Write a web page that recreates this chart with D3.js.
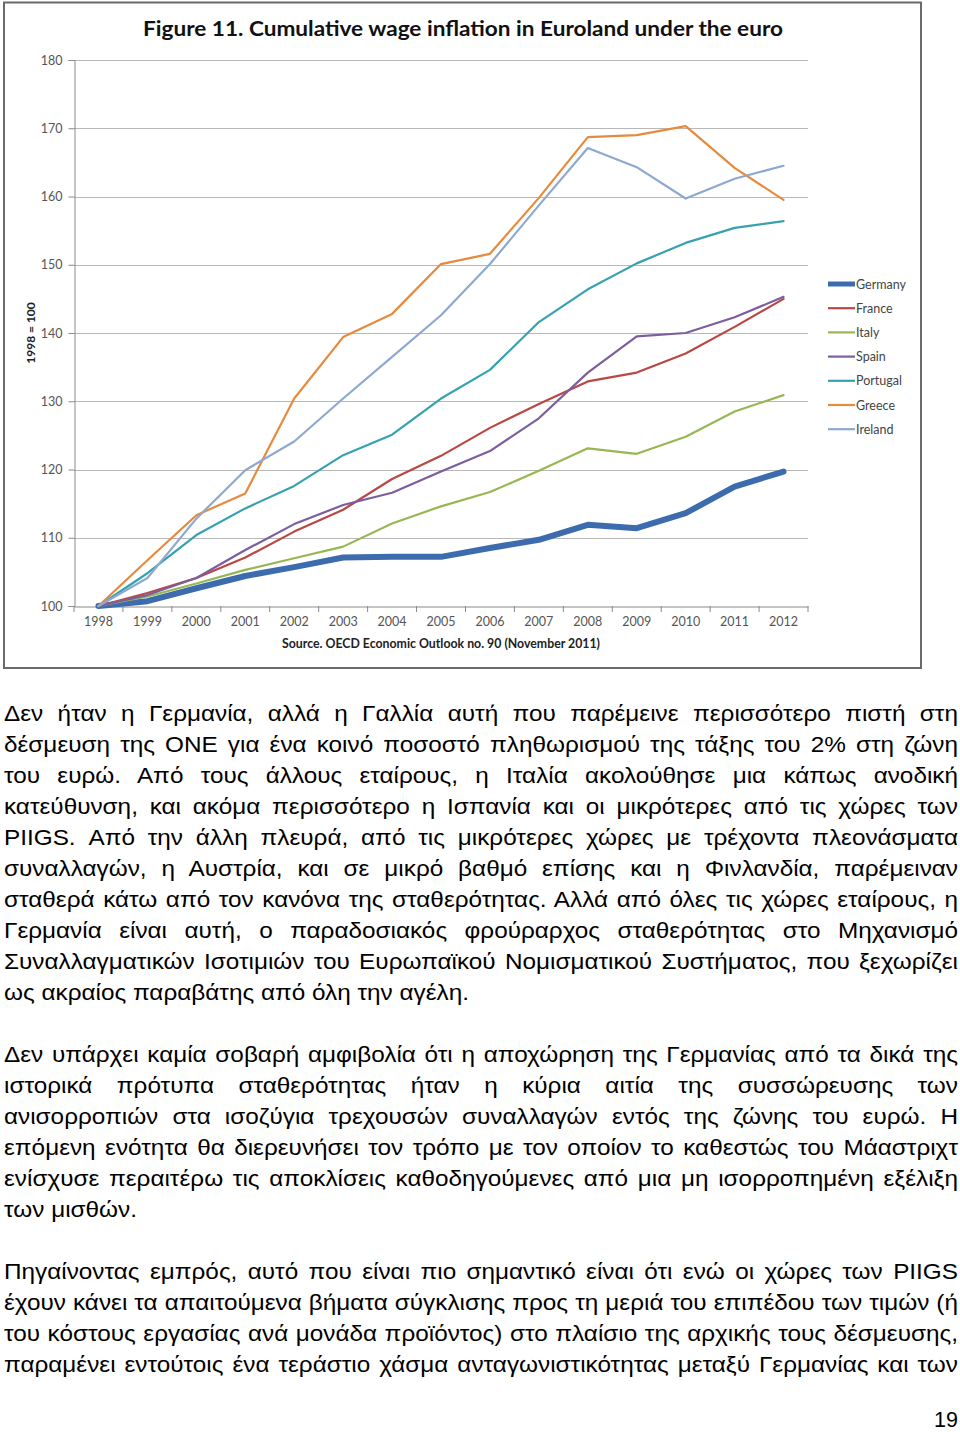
<!DOCTYPE html>
<html><head><meta charset="utf-8">
<script src="https://cdn.jsdelivr.net/npm/d3@7/dist/d3.min.js"></script>
<style>
html,body{margin:0;padding:0;background:#fff;width:960px;height:1432px;overflow:hidden;}
#chart{position:absolute;left:0;top:0;}
.ln{position:absolute;left:4px;font-family:"Liberation Sans",Arial,sans-serif;color:#000;line-height:31px;height:31px;white-space:nowrap;transform-origin:0 50%;}
.just{text-align:justify;text-align-last:justify;white-space:normal;}
</style></head><body>
<svg id="chart" width="960" height="672"></svg>
<div id="text"></div>
<script>
const years = ["1998","1999","2000","2001","2002","2003","2004","2005","2006","2007","2008","2009","2010","2011","2012"];
const yTicks = [100,110,120,130,140,150,160,170,180];
const seriesNames = ["Germany","France","Italy","Spain","Portugal","Greece","Ireland"];
const germany  = [100,100.7,102.6,104.4,105.7,107.1,107.2,107.2,108.5,109.7,111.9,111.4,113.6,117.5,119.7];
const france   = [100,101.9,104.1,107.1,110.9,114.1,118.6,122.0,126.1,129.6,132.9,134.2,137.0,140.9,145.0];
const italy    = [100,101.4,103.3,105.3,107.0,108.7,112.1,114.6,116.7,119.8,123.1,122.3,124.8,128.5,130.9];
const spain    = [100,101.6,104.1,108.2,112.0,114.8,116.6,119.7,122.7,127.5,134.2,139.5,140.0,142.3,145.3];
const portugal = [100,104.8,110.4,114.3,117.6,122.1,125.1,130.4,134.6,141.6,146.4,150.2,153.2,155.4,156.4];
const greece   = [100,106.7,113.3,116.5,130.4,139.4,142.8,150.1,151.6,159.8,168.7,169.0,170.3,164.2,159.5];
const ireland  = [100,104.1,112.8,119.9,124.1,130.4,136.5,142.6,150.1,158.7,167.1,164.3,159.7,162.6,164.5];
const seriesValues = [germany,france,italy,spain,portugal,greece,ireland];
const seriesColors = ["#3c6cae","#bb4744","#97b752","#7a5e9d","#36a2b0","#e68a3e","#8ea9cf"];
const seriesWidths = [6,2.2,2.2,2.2,2.2,2.2,2.2];

const svg = d3.select("#chart");
const L=74, R=808, T=60, B=606;
const x = d3.scaleBand().domain(years).range([L,R]);
const y = d3.scaleLinear().domain([100,180]).range([B,T]);

svg.append("rect").attr("x",4).attr("y",2.5).attr("width",917).attr("height",665.5)
  .attr("fill","#fff").attr("stroke","#6a6a6a").attr("stroke-width",2);

svg.append("text").attr("x",463).attr("y",36).attr("text-anchor","middle")
  .attr("font-family","Lato, 'Open Sans', sans-serif").attr("font-weight","bold").attr("font-size",21)
  .attr("textLength",640).attr("lengthAdjust","spacingAndGlyphs").attr("fill","#111")
  .text("Figure 11. Cumulative wage inflation in Euroland under the euro");

svg.append("g").selectAll("line").data(yTicks.filter(d=>d>100)).join("line")
  .attr("x1",L).attr("x2",R).attr("y1",d=>Math.round(y(d))+0.5).attr("y2",d=>Math.round(y(d))+0.5)
  .attr("stroke","#b8b8b8").attr("stroke-width",1.2);

const yAxis = d3.axisLeft(y).tickValues(yTicks).tickSize(6).tickPadding(6);
const gy = svg.append("g").attr("transform",`translate(${L+0.5},0)`).call(yAxis);
gy.select(".domain").attr("stroke","#8a8a8a");
gy.selectAll(".tick line").attr("stroke","#8a8a8a");
gy.selectAll(".tick text").attr("font-family","Lato, sans-serif").attr("font-size",12.5).attr("fill","#555");

const xAxis = d3.axisBottom(x).tickSize(0).tickPadding(11);
const gx = svg.append("g").attr("transform",`translate(0,${B+0.5})`).call(xAxis);
gx.select(".domain").attr("stroke","#8a8a8a");
gx.selectAll(".tick text").attr("font-family","Lato, sans-serif").attr("font-size",12.5).attr("fill","#555");
svg.append("g").selectAll("line").data(years.concat(["end"])).join("line")
  .attr("x1",(d,i)=>i<years.length?x(d):R).attr("x2",(d,i)=>i<years.length?x(d):R)
  .attr("y1",B).attr("y2",B+6).attr("stroke","#8a8a8a");

svg.append("text").attr("transform","translate(35,333) rotate(-90)").attr("text-anchor","middle")
  .attr("font-family","Lato, sans-serif").attr("font-weight","bold").attr("font-size",12).attr("fill","#222")
  .text("1998 = 100");

svg.append("text").attr("x",441).attr("y",648).attr("text-anchor","middle")
  .attr("font-family","Lato, sans-serif").attr("font-weight","bold").attr("font-size",12.5).attr("fill","#222")
  .attr("textLength",318).attr("lengthAdjust","spacingAndGlyphs")
  .text("Source. OECD Economic Outlook no. 90 (November 2011)");

const line = d3.line().x((d,i)=>x(years[i])+x.bandwidth()/2).y(d=>y(d));
svg.append("g").selectAll("path").data(seriesValues).join("path")
  .attr("d",d=>line(d)).attr("fill","none")
  .attr("stroke",(d,i)=>seriesColors[i]).attr("stroke-width",(d,i)=>seriesWidths[i])
  .attr("stroke-linejoin","round").attr("stroke-linecap","round");

const lg = svg.append("g").selectAll("g").data(seriesNames).join("g")
  .attr("transform",(d,i)=>`translate(828,${284+i*24.2})`);
lg.append("line").attr("x1",0).attr("x2",27).attr("y1",0).attr("y2",0)
  .attr("stroke",(d,i)=>seriesColors[i]).attr("stroke-width",(d,i)=>i===0?5:2.2);
lg.append("text").attr("x",28).attr("y",4.5).attr("font-family","Lato, sans-serif").attr("font-size",12.5)
  .attr("fill","#444").text(d=>d);

const paragraphs = [
 {top:714, lines:[
  "Δεν ήταν η Γερμανία, αλλά η Γαλλία αυτή που παρέμεινε περισσότερο πιστή στη",
  "δέσμευση της ΟΝΕ για ένα κοινό ποσοστό πληθωρισμού της τάξης του 2% στη ζώνη",
  "του ευρώ. Από τους άλλους εταίρους, η Ιταλία ακολούθησε μια κάπως ανοδική",
  "κατεύθυνση, και ακόμα περισσότερο η Ισπανία και οι μικρότερες από τις χώρες των",
  "PIIGS. Από την άλλη πλευρά, από τις μικρότερες χώρες με τρέχοντα πλεονάσματα",
  "συναλλαγών, η Αυστρία, και σε μικρό βαθμό επίσης και η Φινλανδία, παρέμειναν",
  "σταθερά κάτω από τον κανόνα της σταθερότητας. Αλλά από όλες τις χώρες εταίρους, η",
  "Γερμανία είναι αυτή, ο παραδοσιακός φρούραρχος σταθερότητας στο Μηχανισμό",
  "Συναλλαγματικών Ισοτιμιών του Ευρωπαϊκού Νομισματικού Συστήματος, που ξεχωρίζει",
  "ως ακραίος παραβάτης από όλη την αγέλη."], lastJust:false},
 {top:1055, lines:[
  "Δεν υπάρχει καμία σοβαρή αμφιβολία ότι η αποχώρηση της Γερμανίας από τα δικά της",
  "ιστορικά πρότυπα σταθερότητας ήταν η κύρια αιτία της συσσώρευσης των",
  "ανισορροπιών στα ισοζύγια τρεχουσών συναλλαγών εντός της ζώνης του ευρώ. Η",
  "επόμενη ενότητα θα διερευνήσει τον τρόπο με τον οποίον το καθεστώς του Μάαστριχτ",
  "ενίσχυσε περαιτέρω τις αποκλίσεις καθοδηγούμενες από μια μη ισορροπημένη εξέλιξη",
  "των μισθών."], lastJust:false},
 {top:1272, lines:[
  "Πηγαίνοντας εμπρός, αυτό που είναι πιο σημαντικό είναι ότι ενώ οι χώρες των PIIGS",
  "έχουν κάνει τα απαιτούμενα βήματα σύγκλισης προς τη μεριά του επιπέδου των τιμών (ή",
  "του κόστους εργασίας ανά μονάδα προϊόντος) στο πλαίσιο της αρχικής τους δέσμευσης,",
  "παραμένει εντούτοις ένα τεράστιο χάσμα ανταγωνιστικότητας μεταξύ Γερμανίας και των"], lastJust:true}
];
const tdiv = d3.select("#text");
const fs = 21.5;
function measure(t){
  const m = tdiv.append("span").style("font-family","'Liberation Sans',Arial,sans-serif")
    .style("font-size",fs+"px").style("white-space","nowrap").style("position","absolute")
    .style("visibility","hidden").text(t);
  const w = m.node().getBoundingClientRect().width; m.remove(); return w;
}
const sx = Math.max(1, 465 / measure("ως ακραίος παραβάτης από όλη την αγέλη."));
const innerW = 954 / sx;
paragraphs.forEach(p=>{
  p.lines.forEach((t,i)=>{
    const isLast = i===p.lines.length-1;
    const just = !isLast || p.lastJust;
    const d = tdiv.append("div").attr("class","ln"+(just?" just":""))
      .style("top",(p.top+31*i-15.5)+"px").style("font-size",fs+"px")
      .style("width",innerW+"px").style("transform",`scaleX(${sx})`);
    const w = measure(t);
    if (w > innerW - 2) d.style("letter-spacing",((innerW-2-w)/t.length)+"px");
    d.text(t);
  });
});
tdiv.append("div").attr("class","ln").style("top",(1420-15.5)+"px").style("font-size",fs+"px")
  .style("text-align","right").style("left","900px").style("width","58px").text("19");
</script>
</body></html>
